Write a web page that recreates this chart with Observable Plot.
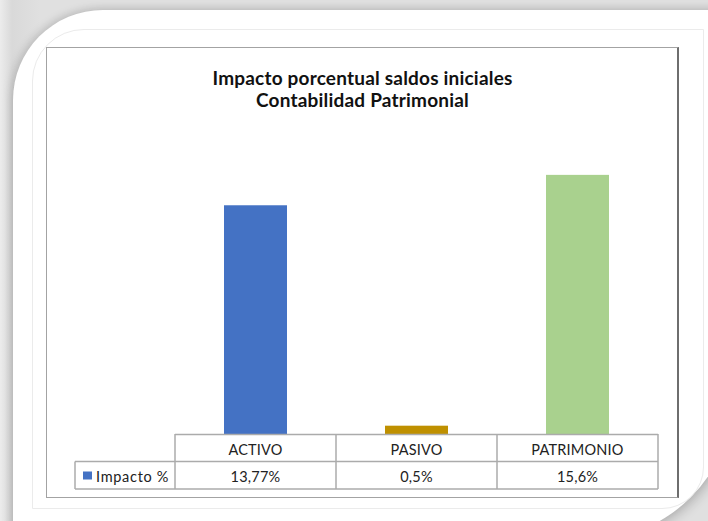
<!DOCTYPE html>
<html>
<head>
<meta charset="utf-8">
<script src="https://cdn.jsdelivr.net/npm/d3@7"></script>
<script src="https://cdn.jsdelivr.net/npm/@observablehq/plot@0.6"></script>
<style>
  html, body { margin: 0; padding: 0; width: 708px; height: 521px; overflow: hidden; background: #e4e4e4; }
  #stage { position: relative; width: 708px; height: 521px; overflow: hidden;
           background: linear-gradient(to right, #ececec 0px, #d9d9d9 12px, #e0e0e0 40px); }
  .card { position: absolute; left: 13px; top: 10px; width: 720px; height: 530px; background: #fff;
          border-top-left-radius: 90px; border-bottom-right-radius: 145px;
          box-shadow: -3px -2px 8px rgba(0,0,0,0.10), 3px 3px 12px rgba(0,0,0,0.20); }
  .inner { position: absolute; left: 32px; top: 29px; width: 670px; height: 478px;
           border: 1px solid #ebebeb; border-top-left-radius: 52px; border-bottom-right-radius: 42px; }
  .chartbox { position: absolute; left: 46px; top: 47px; width: 630px; height: 449px;
              border: 1px solid #a3a3a3; border-right: 2px solid #6e6e6e; }
  .title { position: absolute; left: 47px; width: 631px; top: 67px; text-align: center;
           font-family: Lato, "Open Sans", sans-serif; font-weight: bold; font-size: 19px;
           letter-spacing: 0.2px; line-height: 22px; color: #111; }
  #plot { position: absolute; left: 0; top: 0; }
</style>
</head>
<body>
<div id="stage">
  <div class="card"></div>
  <div class="inner"></div>
  <div class="chartbox"></div>
  <div class="title">Impacto porcentual saldos iniciales<br>Contabilidad Patrimonial</div>
  <div id="plot"></div>
</div>
<script>
// ---- data ----
const categories = ["ACTIVO", "PASIVO", "PATRIMONIO"];
const impacto = [13.77, 0.5, 15.6];
const seriesName = "Impacto %";
const barColors = ["#4472C4", "#BF9000", "#A9D18E"];

const data = categories.map((c, i) => ({categoria: c, valor: impacto[i]}));
const fmt = v => String(v).replace(".", ",") + "%";

const chart = Plot.plot({
  width: 708,
  height: 521,
  marginLeft: 174,
  marginRight: 49,
  marginTop: 135,
  marginBottom: 87,
  x: {domain: categories, padding: 0, axis: null},
  y: {domain: [0, 18], axis: null},
  color: {domain: categories, range: barColors},
  style: {background: "transparent", fontFamily: "Lato, 'Open Sans', sans-serif"},
  marks: [
    Plot.barY(data, {x: "categoria", y: "valor", fill: "categoria", insetLeft: 49, insetRight: 49})
  ]
});

// ---- data table under the bars, positioned from Plot's own scales ----
const xs = chart.scale("x");
const ys = chart.scale("y");
const bw = xs.bandwidth;
const base = ys.apply(0);
const rowH = 27.5;
const left = xs.apply(categories[0]);
const right = xs.apply(categories[categories.length - 1]) + bw;
const legendLeft = 75;
const svg = d3.select(chart);
const g = svg.append("g").attr("stroke", "#ababab").attr("stroke-width", 1.5).attr("fill", "none");
// horizontal lines
g.append("line").attr("x1", left).attr("x2", right).attr("y1", base + 0.5).attr("y2", base + 0.5);
g.append("line").attr("x1", legendLeft).attr("x2", right).attr("y1", base + rowH).attr("y2", base + rowH);
g.append("line").attr("x1", legendLeft).attr("x2", right).attr("y1", base + 2 * rowH).attr("y2", base + 2 * rowH);
// vertical lines
const edges = categories.map(c => xs.apply(c)).concat([right]);
edges.forEach(e => g.append("line").attr("x1", e).attr("x2", e).attr("y1", base).attr("y2", base + 2 * rowH));
g.append("line").attr("x1", legendLeft).attr("x2", legendLeft).attr("y1", base + rowH).attr("y2", base + 2 * rowH);

const t = svg.append("g").attr("font-family", "Lato, 'Open Sans', sans-serif").attr("font-size", 14.5)
  .attr("letter-spacing", "0.2px").attr("fill", "#222").attr("text-anchor", "middle");
categories.forEach((c, i) => {
  const cx = xs.apply(c) + bw / 2;
  t.append("text").attr("x", cx).attr("y", base + 21).text(c);
  t.append("text").attr("x", cx).attr("y", base + rowH + 20.5).text(fmt(impacto[i]));
});
// legend key
svg.append("rect").attr("x", legendLeft + 8).attr("y", base + rowH + 10).attr("width", 9).attr("height", 8)
  .attr("fill", barColors[0]);
t.append("text").attr("x", legendLeft + 21).attr("y", base + rowH + 20.5)
  .attr("text-anchor", "start").attr("letter-spacing", "0.7px").text(seriesName);

document.getElementById("plot").appendChild(chart);
</script>
</body>
</html>
